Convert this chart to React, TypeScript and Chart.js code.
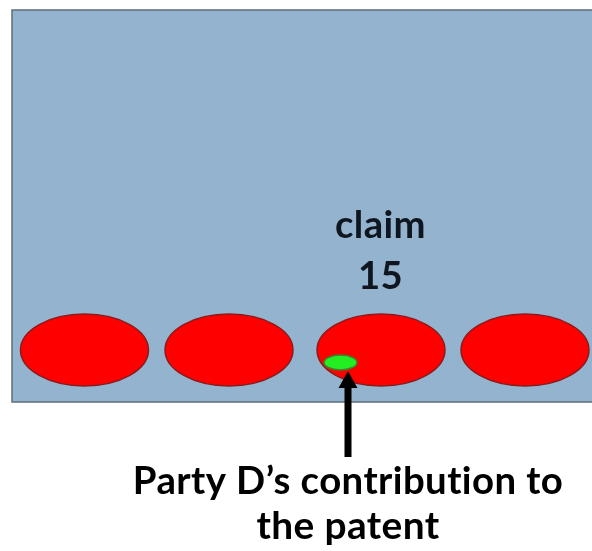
import React, { useEffect, useRef } from "react";
import { Chart, registerables } from "chart.js";

Chart.register(...registerables);

// Frame (box) in page coordinates
const boxLeft = 12;
const boxTop = 10;
const boxRight = 610;
const boxBottom = 402;

// Red ellipses (claims)
const claimX = [84.5, 229, 381, 525];
const claimY = [350, 350, 350, 350];
const claimRx = [64, 64, 64, 64];
const claimRy = [36, 36, 36, 36];

// Green contribution ellipse
const contribX = [340.5];
const contribY = [362.5];
const contribRx = [16.5];
const contribRy = [7.5];

// Arrow
const arrowX = 348;
const arrowTipY = 371;
const arrowBaseY = 388;
const arrowTailY = 457;

// Labels
const claimLabel = ["claim", "15"];
const claimLabelX = 380.5;
const claimLabelY = [238, 289];
const claimLabelW = [91, 0];
const caption = ["Party D\u2019s contribution to", "the patent"];
const captionX = 348;
const captionY = [494, 539];
const captionW = [430, 183];

const FONT = "Lato, 'Open Sans', sans-serif";

function fitFont(ctx: CanvasRenderingContext2D, text: string, width: number, fallback: number) {
  if (!width) return fallback;
  ctx.font = `bold 40px ${FONT}`;
  const w = ctx.measureText(text).width;
  return (40 * width) / w;
}

const drawPlugin = {
  id: "diagram",
  beforeDatasetsDraw(chart: any) {
    const { ctx, scales } = chart;
    const sx = scales.x;
    const sy = scales.y;
    const px = (v: number) => sx.getPixelForValue(v);
    const py = (v: number) => sy.getPixelForValue(v);
    ctx.save();
    // box
    ctx.fillStyle = "#94b3cf";
    ctx.fillRect(px(boxLeft), py(boxTop), px(boxRight) - px(boxLeft), py(boxBottom) - py(boxTop));
    ctx.strokeStyle = "#5e6e7c";
    ctx.lineWidth = 1.5;
    ctx.strokeRect(px(boxLeft), py(boxTop), px(boxRight) - px(boxLeft), py(boxBottom) - py(boxTop));

    // red ellipses
    for (let i = 0; i < claimX.length; i++) {
      const cx = px(claimX[i]);
      const cy = py(claimY[i]);
      const rx = px(claimX[i] + claimRx[i]) - cx;
      const ry = py(claimY[i] + claimRy[i]) - cy;
      ctx.beginPath();
      ctx.ellipse(cx, cy, Math.abs(rx), Math.abs(ry), 0, 0, Math.PI * 2);
      ctx.fillStyle = "#ff0000";
      ctx.fill();
      ctx.strokeStyle = "#8c1c1c";
      ctx.lineWidth = 1.5;
      ctx.stroke();
    }
    // green ellipse
    for (let i = 0; i < contribX.length; i++) {
      const cx = px(contribX[i]);
      const cy = py(contribY[i]);
      const rx = px(contribX[i] + contribRx[i]) - cx;
      const ry = py(contribY[i] + contribRy[i]) - cy;
      ctx.beginPath();
      ctx.ellipse(cx, cy, Math.abs(rx), Math.abs(ry), 0, 0, Math.PI * 2);
      ctx.fillStyle = "#22ee22";
      ctx.fill();
      ctx.strokeStyle = "#3f7f2f";
      ctx.lineWidth = 1.5;
      ctx.stroke();
    }
    // arrow
    ctx.fillStyle = "#000000";
    ctx.fillRect(px(arrowX) - 3.5, py(arrowBaseY) - 1, 7, py(arrowTailY) - py(arrowBaseY) + 1);
    ctx.beginPath();
    ctx.moveTo(px(arrowX), py(arrowTipY));
    ctx.lineTo(px(arrowX) - 9.5, py(arrowBaseY));
    ctx.lineTo(px(arrowX) + 9.5, py(arrowBaseY));
    ctx.closePath();
    ctx.fill();

    // labels
    (ctx as any).letterSpacing = "0.4px";
    ctx.textAlign = "center";
    ctx.textBaseline = "alphabetic";
    ctx.fillStyle = "#0f1620";
    const claimSize = fitFont(ctx, claimLabel[0], claimLabelW[0], 36);
    claimLabel.forEach((t, i) => {
      ctx.font = `bold ${claimSize}px ${FONT}`;
      ctx.fillText(t, px(claimLabelX), py(claimLabelY[i]));
    });
    ctx.fillStyle = "#000000";
    caption.forEach((t, i) => {
      const s = fitFont(ctx, t, captionW[i], 40);
      ctx.font = `bold ${s}px ${FONT}`;
      ctx.fillText(t, px(captionX), py(captionY[i]));
    });
    ctx.restore();
  },
};

export default function App() {
  const ref = useRef<HTMLCanvasElement>(null);
  useEffect(() => {
    if (!ref.current) return;
    const chart = new Chart(ref.current, {
      type: "scatter",
      data: {
        datasets: [
          {
            data: claimX.map((x, i) => ({ x, y: claimY[i] })),
            pointRadius: 0,
          },
        ],
      },
      options: {
        animation: false,
        responsive: false,
        events: [],
        layout: { padding: 0 },
        plugins: { legend: { display: false }, tooltip: { enabled: false } },
        scales: {
          x: { type: "linear", min: 0, max: 592, display: false },
          y: { type: "linear", min: 0, max: 551, reverse: true, display: false },
        },
      },
      plugins: [drawPlugin],
    });
    return () => chart.destroy();
  }, []);
  return (
    <div style={{ position: "fixed", left: 0, top: 0, width: 592, height: 551, background: "#ffffff" }}>
      <canvas ref={ref} width={592} height={551} style={{ display: "block" }} />
    </div>
  );
}
